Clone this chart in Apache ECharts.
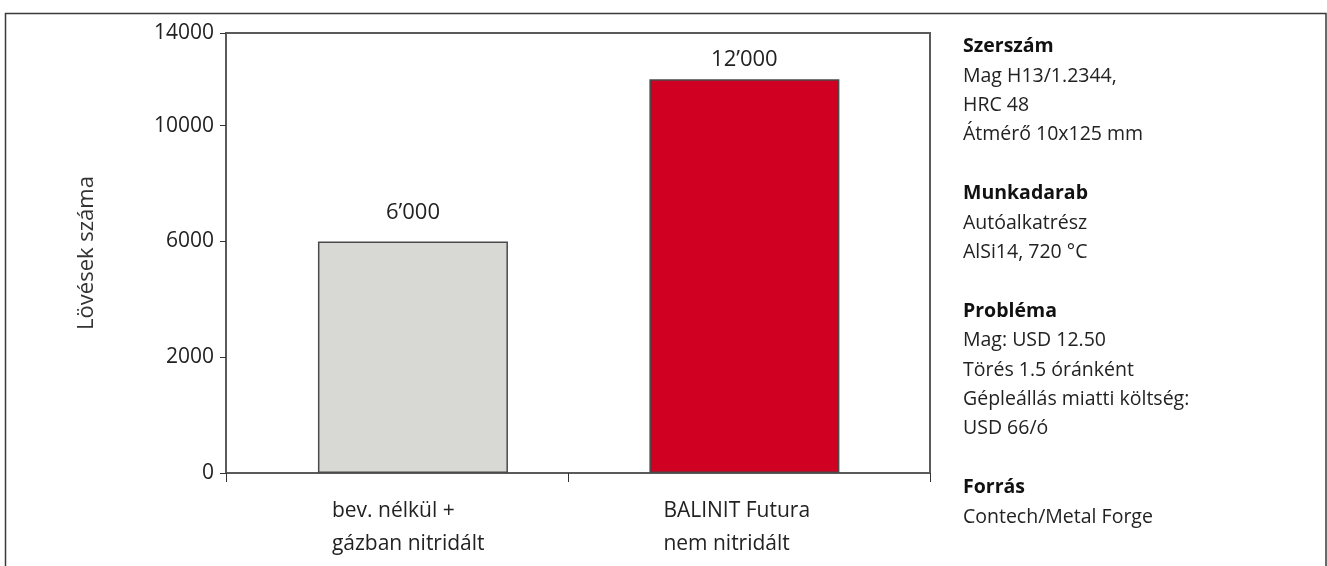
<!DOCTYPE html>
<html>
<head>
<meta charset="utf-8">
<style>
  html, body { margin: 0; padding: 0; background: #ffffff; }
  #chart { width: 1327px; height: 566px; }
</style>
<script src="https://cdn.jsdelivr.net/npm/echarts@6.0.0/dist/echarts.min.js"></script>
</head>
<body>
<div id="chart"></div>
<script>
// ---- data ----
const categories = [
  ['bev. nélkül +', 'gázban nitridált'],
  ['BALINIT Futura', 'nem nitridált']
];
const values = [6000, 12000];
const yTickLabels = [0, 2000, 6000, 10000, 14000];
const yAxisTitle = 'Lövések száma';
const infoTitles = ['Szerszám', 'Munkadarab', 'Probléma', 'Forrás'];
const infoLines = [
  ['Mag H13/1.2344,', 'HRC 48', 'Átmérő 10x125 mm'],
  ['Autóalkatrész', 'AlSi14, 720 °C'],
  ['Mag: USD 12.50', 'Törés 1.5 óránként', 'Gépleállás miatti költség:', 'USD 66/ó'],
  ['Contech/Metal Forge']
];

// ---- scale: the reference uses a broken (piecewise) value axis ----
// tick i is drawn at axis unit tickPos[i]; top segment is shorter
const tickPos = [0, 1, 2, 3, 3.8];
function toPos(v) {
  for (let i = 0; i < yTickLabels.length - 1; i++) {
    const a = yTickLabels[i], b = yTickLabels[i + 1];
    if (v >= a && v <= b) {
      return tickPos[i] + (v - a) / (b - a) * (tickPos[i + 1] - tickPos[i]);
    }
  }
  return tickPos[tickPos.length - 1];
}
function tickLabel(p) {
  for (let i = 0; i < tickPos.length; i++) {
    if (Math.abs(tickPos[i] - p) < 1e-6) return String(yTickLabels[i]);
  }
  return '';
}
function fmtThousands(v) {
  return String(v).replace(/\B(?=(\d{3})+(?!\d))/g, '\u2019');
}

const colors = ['#d8d8d4', '#cf0021'];
const labelDist = [18, 9];
const FONT = '"Open Sans", "Noto Sans", "DejaVu Sans", sans-serif';

let infoText = [];
infoTitles.forEach((t, i) => {
  if (i > 0) infoText.push('');
  infoText.push('{h|' + t + '}');
  infoLines[i].forEach(l => infoText.push('{t|' + l + '}'));
});

const chart = echarts.init(document.getElementById('chart'), null, { renderer: 'canvas' });
chart.setOption({
  backgroundColor: '#ffffff',
  animation: false,
  grid: {
    left: 226, top: 33, width: 704, height: 440,
    show: true, borderColor: '#5a5a5a', borderWidth: 2, backgroundColor: 'transparent'
  },
  xAxis: {
    type: 'value',
    min: -0.564, max: 1.56,
    splitLine: { show: false },
    axisLine: { show: true, onZero: false, lineStyle: { color: '#5a5a5a', width: 2 } },
    axisTick: {
      show: true, inside: false, length: 9,
      customValues: [-0.564, 0.47, 1.56],
      lineStyle: { color: '#333', width: 1 }
    },
    axisLabel: {
      customValues: [0, 1],
      margin: 22,
      formatter: function (v) {
        const c = categories[Math.round(v)];
        return c.map(s => '{c|' + s + '}').join('\n');
      },
      rich: {
        c: {
          width: 162, align: 'left',
          fontFamily: FONT, fontSize: 21, lineHeight: 33, color: '#222'
        }
      }
    }
  },
  yAxis: {
    type: 'value',
    min: 0, max: 3.8, interval: 1,
    name: yAxisTitle,
    nameLocation: 'middle',
    nameGap: 128,
    nameTextStyle: { fontFamily: FONT, fontSize: 22, color: '#333' },
    splitLine: { show: false },
    axisLine: { show: true, onZero: false, lineStyle: { color: '#5a5a5a', width: 2 } },
    axisTick: { show: true, inside: false, length: 6, lineStyle: { color: '#333', width: 1 } },
    axisLabel: {
      margin: 12,
      fontFamily: FONT, fontSize: 21, color: '#222',
      formatter: tickLabel
    }
  },
  series: [{
    type: 'bar',
    barWidth: 190,
    data: values.map((v, i) => ({
      value: [i, toPos(v)],
      itemStyle: { color: colors[i], borderColor: '#4a4a4a', borderWidth: 1.5 },
      label: { distance: labelDist[i] }
    })),
    label: {
      show: true, position: 'top',
      fontFamily: FONT, fontSize: 22, color: '#222',
      formatter: p => fmtThousands(values[p.dataIndex])
    }
  }],
  graphic: [
    {
      type: 'rect', silent: true,
      shape: { x: 5.5, y: 13.5, width: 1320.5, height: 600 },
      style: { fill: 'none', stroke: '#3a3a3a', lineWidth: 1.5 }
    },
    {
      type: 'text', silent: true,
      left: 963, top: 32,
      style: {
        text: infoText.join('\n'),
        font: '19.5px ' + FONT,
        lineHeight: 29.4,
        fill: '#222',
        rich: {
          h: { fontFamily: FONT, fontSize: 19.5, fontWeight: 'bold', lineHeight: 29.4, fill: '#111' },
          t: { fontFamily: FONT, fontSize: 19.5, lineHeight: 29.4, fill: '#222' }
        }
      }
    }
  ]
});
</script>
</body>
</html>
